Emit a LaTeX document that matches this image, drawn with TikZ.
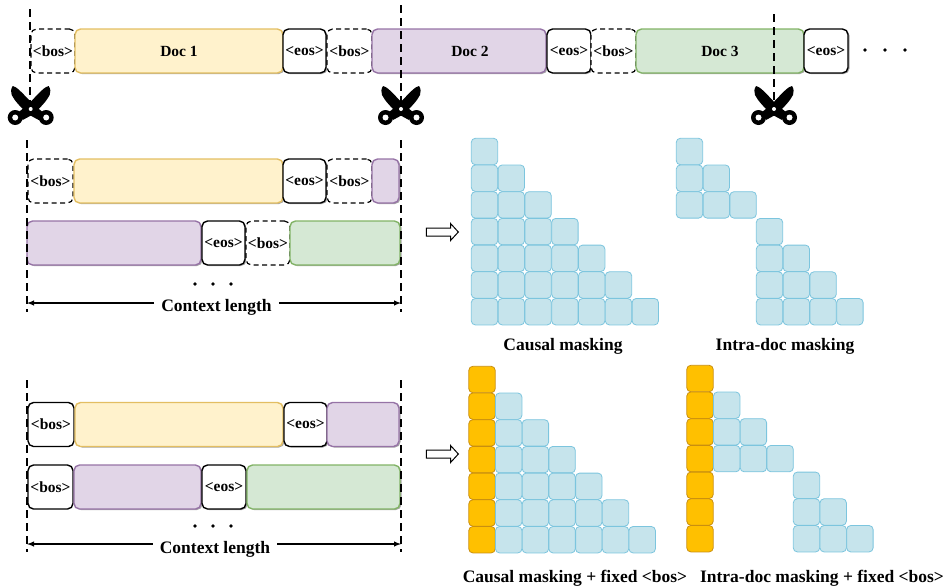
\documentclass[tikz,border=0pt]{standalone}
\usepackage{fontspec}
\setmainfont{Liberation Serif}
\usetikzlibrary{shapes.arrows,shadows}
\tikzset{
  blockstyle/.style={rectangle, rounded corners=5.5pt, inner sep=0pt, outer sep=0pt, minimum height=44, line width=1.4pt, font=\fontsize{15.5}{17}\selectfont\bfseries},
  shadestyle/.style={drop shadow={shadow xshift=1.5pt, shadow yshift=-1pt, opacity=.35, fill=black}},
  bosdash/.style={blockstyle, draw=black, fill=white, dash pattern=on 5pt off 3.5pt, line width=1.2pt},
  bossolid/.style={blockstyle, draw=black, fill=white},
  eosstyle/.style={blockstyle, shadestyle, draw=black, fill=white},
  yellowdoc/.style={blockstyle, shadestyle, draw=yellowline, fill=yellowfill},
  purpledoc/.style={blockstyle, shadestyle, draw=purpleline, fill=purplefill},
  greendoc/.style={blockstyle, shadestyle, draw=greenline, fill=greenfill},
  cellstyle/.style={rectangle, rounded corners=4pt, minimum size=26.4, inner sep=0pt, draw=cellline, fill=cellfill, line width=.8pt},
  fixedstyle/.style={rectangle, rounded corners=4pt, minimum size=26.4, inner sep=0pt, draw=fixedline, fill=fixedfill, line width=.8pt},
  cutstyle/.style={line width=1.7pt, dash pattern=on 8pt off 5pt},
  dotstyle/.style={circle, fill=black, inner sep=0pt, minimum size=3.8},
  hollowstyle/.style={single arrow, draw=black, fill=white, line width=1pt, inner sep=3.5pt, minimum height=32, minimum width=16, single arrow head extend=4.5pt, single arrow tip angle=95},
  titlestyle/.style={inner ysep=0pt, inner xsep=7pt, font=\fontsize{17.5}{19}\selectfont\bfseries},
  scissorstyle/.pic={
    \foreach \s in {-1,1}{
      \fill[black,xscale=\s] (-18,-23) .. controls (-14,-22) and (-11,-19) .. (3,-4) -- (12,3) -- (8,11) -- (-3,5) .. controls (-10,-2) and (-16,-8) .. (-19,-14) .. controls (-20,-17) and (-20,-20) .. cycle;
      \fill[black,xscale=\s] (15.5,8.5) circle (7.5);
      \fill[white,xscale=\s] (15.5,8.5) circle (3);
    }
    \fill[white] (0,0) circle (2);
  }
}
\definecolor{yellowfill}{HTML}{FFF2CC}
\definecolor{yellowline}{HTML}{E3BE62}
\definecolor{purplefill}{HTML}{E1D5E7}
\definecolor{purpleline}{HTML}{9673A6}
\definecolor{greenfill}{HTML}{D5E8D4}
\definecolor{greenline}{HTML}{82B366}
\definecolor{cellfill}{HTML}{C6E4EC}
\definecolor{cellline}{HTML}{7CC5DE}
\definecolor{fixedfill}{HTML}{FFC000}
\definecolor{fixedline}{HTML}{C98F10}
\begin{document}
\begin{tikzpicture}[x=1pt,y=-1pt]
    \useasboundingbox (0,0) rectangle (947,587);
    % top row
    \node (bosA) at (53,51)[bosdash,minimum width=44]{<bos>};
    \node (docA) at (179,51)[yellowdoc,minimum width=208]{Doc 1};
    \node (eosA) at (304.5,51)[eosstyle,minimum width=43]{<eos>};
    \node (bosB) at (349.5,51)[bosdash,minimum width=45]{<bos>};
    \node (docB) at (459,51)[purpledoc,minimum width=174]{\hspace*{22pt}Doc 2};
    \node (eosB) at (569,51)[eosstyle,minimum width=44]{<eos>};
    \node (bosC) at (613.5,51)[bosdash,minimum width=45]{<bos>};
    \node (docC) at (720,51)[greendoc,minimum width=168]{Doc 3};
    \node (eosC) at (826,51)[eosstyle,minimum width=44]{<eos>};
    \foreach \x/\n in {865/a,885/b,905/c}
        \node (dot\n) at (\x,50)[dotstyle]{};
    % cuts
    \coordinate (cutAa) at (30,9);
    \coordinate (cutAb) at (30,102);
    \coordinate (cutBa) at (401,5);
    \coordinate (cutBb) at (401,102);
    \coordinate (cutCa) at (774,14);
    \coordinate (cutCb) at (774,102);
    \foreach \n in {A,B,C}
        \draw[cutstyle] (cut\n a)--(cut\n b);
    \pic at (30.7,109) {scissorstyle};
    \pic at (401,109) {scissorstyle};
    \pic at (774,109) {scissorstyle};
    % causal rows
    \node (bosD) at (50.5,181)[bosdash,minimum width=45]{<bos>};
    \node (docD) at (178.5,181)[yellowdoc,minimum width=209]{};
    \node (eosD) at (304.5,181)[eosstyle,minimum width=43]{<eos>};
    \node (bosE) at (349.5,181)[bosdash,minimum width=45]{<bos>};
    \node (docE) at (385.5,181)[purpledoc,minimum width=27]{};
    \node (docF) at (114,243)[purpledoc,minimum width=174]{};
    \node (eosF) at (223.5,243)[eosstyle,minimum width=43]{<eos>};
    \node (bosF) at (268,243)[bosdash,minimum width=44]{<bos>};
    \node (docG) at (345,243)[greendoc,minimum width=110]{};
    \foreach \x/\n in {195/d,213/e,231/f}
        \node (dot\n) at (\x,284)[dotstyle]{};
    \coordinate (cutDa) at (27,140);
    \coordinate (cutDb) at (27,312);
    \coordinate (cutEa) at (401,140);
    \coordinate (cutEb) at (401,312);
    \draw[cutstyle] (cutDa)--(cutDb);
    \draw[cutstyle] (cutEa)--(cutEb);
    \node (lenA) at (216.5,307)[titlestyle]{Context length};
    \coordinate (lenAa) at (27,303);
    \coordinate (lenAb) at (401,303);
    \draw[-latex,line width=1.4pt] (lenA.west|-lenAa)--(lenAa);
    \draw[-latex,line width=1.4pt] (lenA.east|-lenAb)--(lenAb);
    \node (arrowA) at (440.5,232)[hollowstyle]{};
    % fixed rows
    \node (bosG) at (51,424.5)[bossolid,minimum width=46]{<bos>};
    \node (docH) at (179,424.5)[yellowdoc,minimum width=208]{};
    \node (eosG) at (305.5,424.5)[eosstyle,minimum width=43]{<eos>};
    \node (docI) at (363,424.5)[purpledoc,minimum width=72]{};
    \node (bosH) at (50.5,487)[bossolid,minimum width=45]{<bos>};
    \node (docJ) at (137.5,487)[purpledoc,minimum width=127]{};
    \node (eosH) at (224,487)[eosstyle,minimum width=44]{<eos>};
    \node (docK) at (323.5,487)[greendoc,minimum width=153]{};
    \foreach \x/\n in {195/g,213/h,231/i}
        \node (dot\n) at (\x,526)[dotstyle]{};
    \coordinate (cutFa) at (27,380);
    \coordinate (cutFb) at (27,552);
    \coordinate (cutGa) at (401,380);
    \coordinate (cutGb) at (401,552);
    \draw[cutstyle] (cutFa)--(cutFb);
    \draw[cutstyle] (cutGa)--(cutGb);
    \node (lenB) at (215,549)[titlestyle]{Context length};
    \coordinate (lenBa) at (27,544);
    \coordinate (lenBb) at (401,544);
    \draw[-latex,line width=1.4pt] (lenB.west|-lenBa)--(lenBa);
    \draw[-latex,line width=1.4pt] (lenB.east|-lenBb)--(lenBb);
    \node (arrowB) at (440.5,454)[hollowstyle]{};
    % causal masking
    \foreach \r in {0,...,6}
        \foreach \c in {0,...,\r}
            \node (causal\r\c) at ({484.5+\c*26.8},{151.5+\r*26.7})[cellstyle]{};
    % intra-doc masking
    \foreach \r in {0,1,2}
        \foreach \c in {0,...,\r}
            \node (intra\r\c) at ({689.5+\c*26.8},{151.5+\r*26.7})[cellstyle]{};
    \foreach \r in {3,...,6}
        \foreach \c in {3,...,\r}
            \node (intra\r\c) at ({769.5+(\c-3)*26.8},{151.5+\r*26.7})[cellstyle]{};
    % causal masking with fixed column
    \foreach \r in {0,...,6}
        \node (fixa\r) at (482,{379.5+\r*26.7})[fixedstyle]{};
    \foreach \r in {1,...,6}
        \foreach \c in {1,...,\r}
            \node (fixb\r\c) at ({482+\c*26.7},{379.5+\r*26.7})[cellstyle]{};
    % intra-doc masking with fixed column
    \foreach \r in {0,...,6}
        \node (fixc\r) at (700,{378.5+\r*26.7})[fixedstyle]{};
    \foreach \r in {1,2,3}
        \foreach \c in {1,...,\r}
            \node (fixd\r\c) at ({700+\c*26.7},{378.5+\r*26.7})[cellstyle]{};
    \foreach \r in {4,5,6}
        \foreach \c in {4,...,\r}
            \node (fixe\r\c) at ({806.5+(\c-4)*26.7},{378.5+\r*26.7})[cellstyle]{};
    % captions
    \node (capA) at (563,346)[titlestyle]{Causal masking};
    \node (capB) at (785,346)[titlestyle]{Intra-doc masking};
    \node (capC) at (575,578.5)[titlestyle]{Causal masking + fixed <bos>};
    \node (capD) at (822,578.5)[titlestyle]{Intra-doc masking + fixed <bos>};
\end{tikzpicture}
\end{document}
